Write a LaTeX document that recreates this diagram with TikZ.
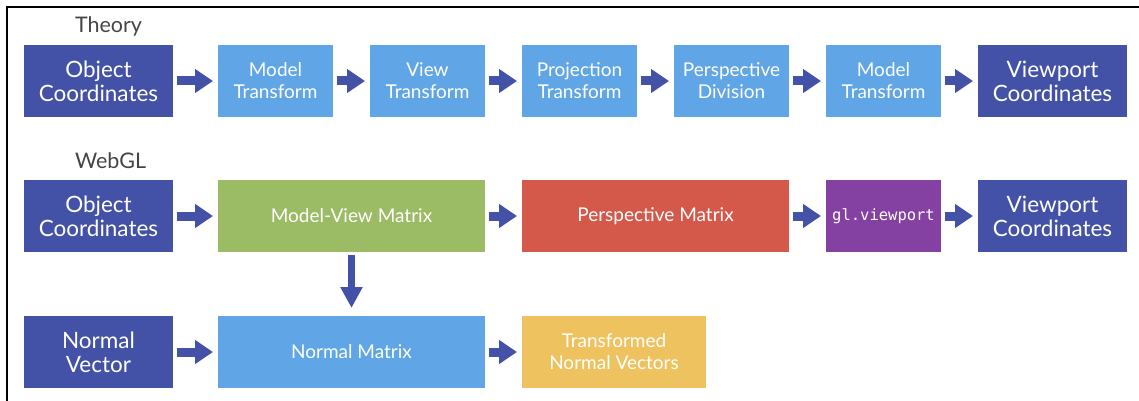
\documentclass[tikz,border=0pt]{standalone}
\usepackage{fontspec}
\setmainfont{Lato}
\setmonofont{DejaVu Sans Mono}
\usepackage{tikz}
\usetikzlibrary{arrows.meta,positioning,calc}
\definecolor{navy}{HTML}{4352A7}
\definecolor{sky}{HTML}{60A6E6}
\definecolor{olive}{HTML}{9BBB64}
\definecolor{brick}{HTML}{D4594A}
\definecolor{plum}{HTML}{8441A2}
\definecolor{sand}{HTML}{EEC25E}
\definecolor{label}{HTML}{454545}

\begin{document}
\begin{tikzpicture}[
  x=1pt,y=1pt,
  node distance=64pt and 37pt,
  every node/.style={align=center,text=white,inner sep=0pt,outer sep=0pt},
  dark/.style={fill=navy,minimum width=149pt,minimum height=72pt,
               font=\fontsize{22.5}{24}\selectfont},
  stage/.style={fill=sky,minimum width=115pt,minimum height=72pt,
               font=\fontsize{19}{22}\selectfont},
  wide/.style={stage,minimum width=267pt},
  lbl/.style={text=label,anchor=base west,font=\fontsize{21.5}{22}\selectfont},
  arr/.style={-{Triangle[length=18pt,width=23pt]},line width=9pt,navy,
              shorten <=4pt,shorten >=5pt}
]
\useasboundingbox (0,0) rectangle (1139,-401);
\draw[line width=2.8pt] (7,-401) -- (7,-7) -- (1139,-7);

% theory row
\node[dark] (obj1) at (98.5,-81) {Object\\Coordinates};
\node[stage,right=45pt of obj1] (model1) {Model\\Transform};
\node[stage,right=of model1] (view) {View\\Transform};
\node[stage,right=of view] (proj) {Projection\\Transform};
\node[stage,right=of proj] (pdiv) {Perspective\\Division};
\node[stage,right=of pdiv] (model2) {Model\\Transform};
\node[dark,right=of model2] (vp1) {Viewport\\Coordinates};
\node[lbl] (theory) at ($(obj1.north west)+(51,12)$) {Theory};

% webgl row
\node[dark,below=63pt of obj1] (obj2) {Object\\Coordinates};
\node[wide,fill=olive,right=45pt of obj2] (mv) {Model-View Matrix};
\node[wide,fill=brick,right=of mv] (persp) {Perspective Matrix};
\node[stage,fill=plum,right=of persp,font=\ttfamily\fontsize{15.5}{18}\selectfont] (glvp) {gl.viewport};
\node[dark,right=of glvp] (vp2) {Viewport\\Coordinates};
\node[lbl] (webgl) at ($(obj2.north west)+(51,12)$) {WebGL};

% normal row
\node[dark,below=of obj2] (nvec) {Normal\\Vector};
\node[wide,right=45pt of nvec] (nmat) {Normal Matrix};
\node[stage,fill=sand,minimum width=184pt,right=of nmat] (tnv) {Transformed\\Normal Vectors};

\draw[arr] (obj1)--(model1);
\draw[arr] (model1)--(view);
\draw[arr] (view)--(proj);
\draw[arr] (proj)--(pdiv);
\draw[arr] (pdiv)--(model2);
\draw[arr] (model2)--(vp1);
\draw[arr] (obj2)--(mv);
\draw[arr] (mv)--(persp);
\draw[arr] (persp)--(glvp);
\draw[arr] (glvp)--(vp2);
\draw[arr,line width=7pt,-{Triangle[length=21pt,width=21pt]},shorten <=3pt,shorten >=8pt] (mv)--(nmat);
\draw[arr] (nvec)--(nmat);
\draw[arr] (nmat)--(tnv);
\end{tikzpicture}
\end{document}
